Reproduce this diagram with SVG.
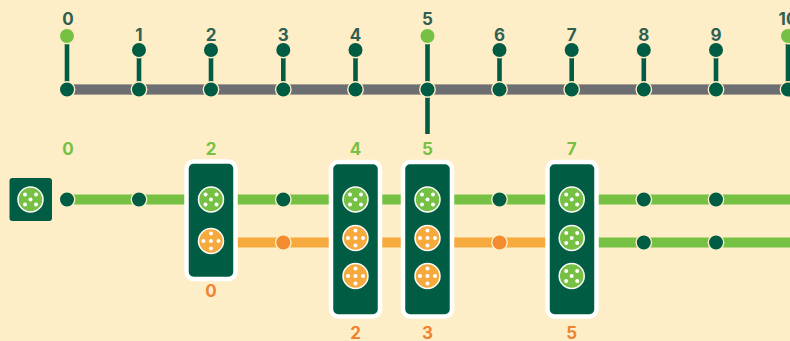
<svg xmlns="http://www.w3.org/2000/svg" width="790" height="341" viewBox="0 0 790 341">
<style>
.t{font-family:"Inter","Noto Sans",sans-serif;font-weight:700;font-size:17px;text-anchor:middle}
.k{fill:#2f5f50}.g{fill:#76c143}.o{fill:#ef8330}
.line{fill:none;stroke-width:10}
.tl{stroke:#6d6e71}.gl{stroke:#76c143}.ol{stroke:#f6aa3e}
.halo{fill:none;stroke:#dfd3b4;stroke-width:11}
.stem{stroke:#005c42;stroke-width:4.600}
.n{fill:#005c42;stroke:#fdeec8;stroke-width:1.400}
.ng{fill:#76c143;stroke:#fdeec8;stroke-width:1.400}
.no{fill:#f28c2e;stroke:#fdeec8;stroke-width:1.400}
.box{fill:#005c42;stroke:#fff;stroke-width:4.500}
.d{fill:#fff}
</style>
<defs>
<g id="tg"><circle r="12.500" fill="#76c143" stroke="#fff" stroke-width="1.500"/><circle class="d" r="2"/><circle class="d" cx="-5.500" cy="-5" r="2"/><circle class="d" cx="5.500" cy="-5" r="2"/><circle class="d" cx="-5.500" cy="5" r="2"/><circle class="d" cx="5.500" cy="5" r="2"/></g>
<g id="to"><circle r="12.500" fill="#f6aa3e" stroke="#fff" stroke-width="1.500"/><circle class="d" r="2"/><circle class="d" cx="-7.500" r="2"/><circle class="d" cx="7.500" r="2"/><circle class="d" cy="-7.500" r="2"/><circle class="d" cy="7.500" r="2"/></g>
</defs>
<rect width="790" height="341" fill="#fdeec8"/>
<g id="connectors">
<line class="halo" x1="67" y1="89.500" x2="790" y2="89.500"/>
<line class="line tl" x1="67" y1="89.500" x2="790" y2="89.500"/>
<line class="stem" x1="67" y1="36" x2="67" y2="89"/>
<line class="stem" x1="139" y1="50" x2="139" y2="89"/>
<line class="stem" x1="211" y1="50" x2="211" y2="89"/>
<line class="stem" x1="283.300" y1="50" x2="283.300" y2="89"/>
<line class="stem" x1="355.500" y1="50" x2="355.500" y2="89"/>
<line class="stem" x1="427.500" y1="36" x2="427.500" y2="134"/>
<line class="stem" x1="499.500" y1="50" x2="499.500" y2="89"/>
<line class="stem" x1="571.700" y1="50" x2="571.700" y2="89"/>
<line class="stem" x1="643.800" y1="50" x2="643.800" y2="89"/>
<line class="stem" x1="716" y1="50" x2="716" y2="89"/>
<line class="stem" x1="788" y1="36" x2="788" y2="89"/>
<line class="line gl" x1="67" y1="199.500" x2="790" y2="199.500"/>
<line class="line ol" x1="211" y1="242.500" x2="572" y2="242.500"/>
<line class="line gl" x1="572" y1="242.500" x2="790" y2="242.500"/>
</g>
<g id="timeline-nodes">
<circle class="ng" cx="67" cy="36" r="7.700"/>
<circle class="n" cx="139" cy="50" r="7.700"/>
<circle class="n" cx="211" cy="50" r="7.700"/>
<circle class="n" cx="283.300" cy="50" r="7.700"/>
<circle class="n" cx="355.500" cy="50" r="7.700"/>
<circle class="ng" cx="427.500" cy="36" r="7.700"/>
<circle class="n" cx="499.500" cy="50" r="7.700"/>
<circle class="n" cx="571.700" cy="50" r="7.700"/>
<circle class="n" cx="643.800" cy="50" r="7.700"/>
<circle class="n" cx="716" cy="50" r="7.700"/>
<circle class="ng" cx="788" cy="36" r="7.700"/>
<circle class="n" cx="67" cy="89.500" r="7.700"/>
<circle class="n" cx="139" cy="89.500" r="7.700"/>
<circle class="n" cx="211" cy="89.500" r="7.700"/>
<circle class="n" cx="283.300" cy="89.500" r="7.700"/>
<circle class="n" cx="355.500" cy="89.500" r="7.700"/>
<circle class="n" cx="427.500" cy="89.500" r="7.700"/>
<circle class="n" cx="499.500" cy="89.500" r="7.700"/>
<circle class="n" cx="571.700" cy="89.500" r="7.700"/>
<circle class="n" cx="643.800" cy="89.500" r="7.700"/>
<circle class="n" cx="716" cy="89.500" r="7.700"/>
<circle class="n" cx="788" cy="89.500" r="7.700"/>
</g>
<g id="timeline-labels">
<text class="t k" x="68" y="25">0</text>
<text class="t k" x="139" y="41">1</text>
<text class="t k" x="211" y="41">2</text>
<text class="t k" x="283.300" y="41">3</text>
<text class="t k" x="355.500" y="41">4</text>
<text class="t k" x="427.500" y="25">5</text>
<text class="t k" x="499.500" y="41">6</text>
<text class="t k" x="571.700" y="41">7</text>
<text class="t k" x="643.800" y="41">8</text>
<text class="t k" x="716" y="41">9</text>
<text class="t k" x="788" y="25">10</text>
</g>
<g id="flow-nodes">
<circle class="n" cx="67" cy="199.500" r="7.700"/>
<circle class="n" cx="139" cy="199.500" r="7.700"/>
<circle class="n" cx="283.300" cy="199.500" r="7.700"/>
<circle class="no" cx="283.300" cy="242.500" r="7.700"/>
<circle class="n" cx="499.500" cy="199.500" r="7.700"/>
<circle class="no" cx="499.500" cy="242.500" r="7.700"/>
<circle class="n" cx="643.800" cy="199.500" r="7.700"/>
<circle class="n" cx="643.800" cy="242.500" r="7.700"/>
<circle class="n" cx="716" cy="199.500" r="7.700"/>
<circle class="n" cx="716" cy="242.500" r="7.700"/>
</g>
<g id="source">
<rect x="9.500" y="178" width="42.500" height="43" rx="3" fill="#005c42"/>
<use href="#tg" x="30.500" y="199.500"/>
</g>
<g id="transition-2">
<rect class="box" x="186.500" y="161.500" width="49" height="117.500" rx="7"/>
<use href="#tg" x="211" y="199.500"/>
<use href="#to" x="211" y="241"/>
<text class="t g" x="211" y="155">2</text>
<text class="t o" x="211" y="297">0</text>
</g>
<g id="transition-4">
<rect class="box" x="331" y="162" width="49" height="154.500" rx="7"/>
<use href="#tg" x="355.500" y="199.500"/>
<use href="#to" x="355.500" y="238"/>
<use href="#to" x="355.500" y="276"/>
<text class="t g" x="355.500" y="155">4</text>
<text class="t o" x="355.500" y="339">2</text>
</g>
<g id="transition-5">
<rect class="box" x="403" y="162" width="49" height="154.500" rx="7"/>
<use href="#tg" x="427.500" y="199.500"/>
<use href="#to" x="427.500" y="238"/>
<use href="#to" x="427.500" y="276"/>
<text class="t g" x="427.500" y="155">5</text>
<text class="t o" x="427.500" y="339">3</text>
</g>
<g id="transition-7">
<rect class="box" x="547.500" y="162" width="49" height="154.500" rx="7"/>
<use href="#tg" x="571.700" y="199.500"/>
<use href="#tg" x="571.700" y="238"/>
<use href="#tg" x="571.700" y="276"/>
<text class="t g" x="571.700" y="155">7</text>
<text class="t o" x="571.700" y="339">5</text>
</g>
<text class="t g" x="68" y="155">0</text>
</svg>
